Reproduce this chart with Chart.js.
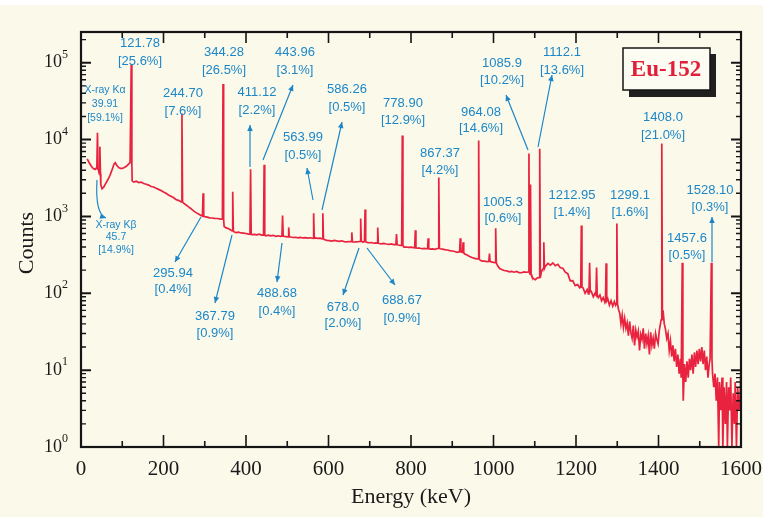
<!DOCTYPE html>
<html>
<head>
<meta charset="utf-8">
<script src="https://cdn.jsdelivr.net/npm/chart.js@4"></script>
<style>
  html, body { margin: 0; background: #fbf9ea; }
  canvas { display: block; }
</style>
</head>
<body>
<canvas id="spectrum" width="763" height="517"></canvas>
<script>
// Continuum of the Eu-152 spectrum (keV, counts)
const contE = [15, 20, 25, 30, 34, 37, 42.5, 48, 51, 55, 60, 65, 70, 75, 80, 83, 87, 92, 98, 104, 110, 115, 119,
  124, 128, 134, 140, 146, 152, 158, 164, 170, 176, 182, 188, 194, 200, 206, 212, 218, 224, 230, 236, 241,
  248, 254, 260, 266, 272, 278, 284, 290, 300, 306, 312, 318, 324, 330, 336, 341,
  347, 352, 358, 364, 371, 376, 382, 388, 394, 400, 406, 415, 420, 426, 432, 438,
  448, 454, 460, 466, 472, 478, 484, 493, 498, 508, 514, 520, 526, 532, 538, 544, 550, 556, 560,
  568, 574, 580, 590, 596, 602, 608, 614, 620, 626, 632, 638, 644, 650, 660, 666, 672, 683,
  693, 698, 704, 710, 715, 723, 728, 734, 740, 746, 752, 758, 769, 774,
  783, 788, 794, 800, 806, 815, 820, 826, 832, 837, 846, 852, 858, 863,
  871, 876, 882, 888, 894, 900, 906, 912, 916, 930, 936, 942, 948, 954, 960,
  968, 973, 978, 984, 995, 1000, 1010, 1015, 1020, 1026, 1032, 1038, 1044, 1050, 1056, 1062, 1068, 1074, 1080,
  1093, 1097, 1101, 1106, 1109, 1116, 1119, 1126, 1132, 1138, 1144, 1150, 1156, 1162, 1168, 1174, 1180, 1186, 1192, 1198, 1204, 1209,
  1217, 1222, 1227, 1230, 1237, 1242, 1246, 1254, 1258, 1262, 1266, 1270, 1277, 1281, 1285, 1289, 1293, 1296,
  1303, 1306, 1309, 1312, 1315, 1318, 1321, 1324, 1327, 1330, 1333, 1336, 1339, 1342, 1345, 1348, 1351, 1354, 1357,
  1360, 1363, 1366, 1369, 1372, 1375, 1378, 1381, 1384, 1387, 1390, 1393, 1396, 1399, 1402, 1405,
  1411, 1414, 1417, 1420, 1423, 1426, 1429, 1432, 1435, 1438, 1441, 1444, 1447, 1450, 1453, 1455,
  1460, 1463, 1466, 1469, 1472, 1475, 1478, 1481, 1484, 1487, 1490, 1493, 1496, 1499, 1502, 1505, 1508, 1511, 1514, 1517, 1520, 1523, 1525,
  1531, 1534, 1537, 1540, 1543, 1546, 1548, 1551, 1554, 1556, 1559, 1562, 1565, 1567, 1570, 1573, 1575, 1578, 1581, 1584, 1586, 1589, 1592, 1595, 1598, 1600];
const contC = [5600, 5000, 4500, 4200, 4100, 4250, 4000, 2600, 2300, 2400, 2700, 3000, 3400, 4000, 4800, 5000, 4600, 4300, 4200, 4300, 4500, 4800, 5000,
  2900, 2800, 2880, 2760, 2800, 2680, 2620, 2560, 2450, 2420, 2330, 2250, 2180, 2080, 2000, 1900, 1830, 1760, 1660, 1620, 1570,
  1500, 1420, 1340, 1270, 1190, 1130, 1080, 1040, 995, 980, 960, 955, 945, 940, 930, 920,
  740, 710, 690, 660, 630, 615, 625, 610, 605, 600, 590, 580, 585, 575, 588, 572,
  560, 572, 560, 568, 552, 560, 550, 548, 545, 540, 532, 536, 528, 535, 525, 530, 522, 528, 520,
  525, 518, 522, 500, 488, 485, 478, 488, 480, 475, 482, 470, 468, 472, 462, 468, 470, 465,
  460, 455, 458, 448, 452, 445, 440, 446, 438, 432, 440, 430, 425, 420,
  398, 400, 395, 398, 392, 386, 388, 380, 384, 380, 376, 378, 374, 382,
  380, 376, 370, 366, 360, 355, 350, 342, 345, 325, 315, 302, 292, 285, 280,
  268, 262, 262, 258, 256, 252, 228, 210, 204, 198, 196, 190, 193, 188, 192, 186, 185, 190, 188,
  165, 155, 150, 158, 160, 190, 205, 225, 245, 232, 248, 228, 238, 215, 212, 188, 180, 145, 146, 126, 130, 118,
  118, 100, 112, 98, 106, 90, 100, 88, 95, 80, 88, 76, 85, 70, 80, 68, 78, 70,
  62, 55, 40, 52, 36, 47, 35, 41, 28, 43, 31, 26, 38, 21, 33, 27, 32, 18, 29,
  25, 35, 19, 30, 22, 28, 16, 31, 21, 26, 19, 30, 25, 22, 33, 41,
  60, 40, 34, 26, 30, 18, 24, 15, 21, 13, 19, 11, 16, 9, 14, 8,
  4, 12, 7, 13, 8, 14, 10, 16, 9, 17, 11, 18, 12, 19, 13, 20, 12, 18, 10, 15, 8, 12, 14,
  9, 6, 9, 4, 8, 1, 7, 3, 8, 1, 6, 2, 7, 1, 6, 3, 8, 1, 5, 2, 7, 1, 6, 3, 5, 11];

// Photo-peaks: energy (keV), continuum under the peak, peak height (counts)
const peakE = [39.91, 45.7, 121.78, 244.70, 295.94, 344.28, 367.79, 411.12, 443.96, 488.68, 503.5, 563.99, 586.26,
  656.5, 678.0, 688.67, 719.3, 764.9, 778.90, 810.45, 841.6, 867.37, 919.3, 926.3, 964.08, 990.2, 1005.3,
  1085.9, 1089.7, 1112.1, 1122, 1212.95, 1233, 1249.9, 1273, 1299.1, 1408.0, 1457.6, 1528.10];
const peakBase = [4200, 3600, 5000, 1550, 1010, 920, 650, 585, 570, 555, 540, 520, 510,
  470, 475, 470, 450, 430, 420, 390, 380, 385, 345, 340, 280, 260, 250,
  190, 175, 160, 210, 120, 105, 95, 80, 73, 45, 8, 14];
const peakTop = [12300, 8100, 95000, 21800, 2000, 53000, 2100, 4100, 4700, 1030, 720, 1100, 1100,
  620, 940, 1230, 720, 590, 11300, 660, 520, 3200, 520, 460, 9700, 330, 700,
  6600, 2600, 7600, 460, 760, 250, 217, 245, 810, 8900, 250, 250];

const xTicks = [0, 200, 400, 600, 800, 1000, 1200, 1400, 1600];
const yExponents = [0, 1, 2, 3, 4, 5];

const RED = '#e8223f';
const BLUE = '#1b87c9';
const PEAK_HALF_WIDTH = 1.5;

// Annotation texts (pixel layout)
const notes = [
  { lines: ['X-ray K\u03b1', '39.91', '[59.1%]'], x: 105, y: 90, lh: 14, size: 10.5 },
  { lines: ['121.78', '[25.6%]'], x: 140, y: 43, lh: 18 },
  { lines: ['244.70', '[7.6%]'], x: 183, y: 93, lh: 18 },
  { lines: ['344.28', '[26.5%]'], x: 224, y: 52, lh: 18 },
  { lines: ['411.12', '[2.2%]'], x: 257, y: 92, lh: 18 },
  { lines: ['443.96', '[3.1%]'], x: 295, y: 52, lh: 18 },
  { lines: ['586.26', '[0.5%]'], x: 347, y: 89, lh: 18 },
  { lines: ['563.99', '[0.5%]'], x: 303, y: 137, lh: 18 },
  { lines: ['778.90', '[12.9%]'], x: 403, y: 103, lh: 17 },
  { lines: ['867.37', '[4.2%]'], x: 440, y: 153, lh: 17 },
  { lines: ['964.08', '[14.6%]'], x: 481, y: 112, lh: 16 },
  { lines: ['1085.9', '[10.2%]'], x: 502, y: 63, lh: 17 },
  { lines: ['1112.1', '[13.6%]'], x: 562, y: 52, lh: 18 },
  { lines: ['1408.0', '[21.0%]'], x: 663, y: 117, lh: 18 },
  { lines: ['1005.3', '[0.6%]'], x: 503, y: 202, lh: 16 },
  { lines: ['1212.95', '[1.4%]'], x: 572, y: 195, lh: 17 },
  { lines: ['1299.1', '[1.6%]'], x: 630, y: 195, lh: 17 },
  { lines: ['1528.10', '[0.3%]'], x: 710, y: 190, lh: 17 },
  { lines: ['1457.6', '[0.5%]'], x: 687, y: 238, lh: 17 },
  { lines: ['X-ray K\u03b2', '45.7', '[14.9%]'], x: 116, y: 225, lh: 12.5, size: 10.5 },
  { lines: ['295.94', '[0.4%]'], x: 173, y: 273, lh: 16 },
  { lines: ['367.79', '[0.9%]'], x: 215, y: 316, lh: 17 },
  { lines: ['488.68', '[0.4%]'], x: 277, y: 293, lh: 18 },
  { lines: ['678.0', '[2.0%]'], x: 343, y: 307, lh: 16 },
  { lines: ['688.67', '[0.9%]'], x: 402, y: 300, lh: 18 }
];
// arrows: tail x,y -> head x,y
const arrows = [
  [250, 167, 250, 125], [263, 160, 293, 85], [322, 210, 342, 122], [313, 200, 307, 168],
  [528, 150, 506, 95], [538, 147, 552, 75], [712, 262, 712, 217],
  [201, 217, 175, 262], [232, 235, 215, 303], [282, 243, 277, 282],
  [359, 248, 343, 295], [367, 248, 395, 285]
];

const points = contE.map((e, i) => ({ x: e, y: contC[i] }));
peakE.forEach((e, i) => {
  points.push({ x: e - PEAK_HALF_WIDTH, y: peakBase[i] });
  points.push({ x: e, y: peakTop[i] });
  points.push({ x: e + PEAK_HALF_WIDTH, y: peakBase[i] });
});
points.sort((a, b) => a.x - b.x);

function arrowHead(ctx, x1, y1, x2, y2) {
  const a = Math.atan2(y2 - y1, x2 - x1);
  const len = 6, wid = 2.8;
  ctx.beginPath();
  ctx.moveTo(x2, y2);
  ctx.lineTo(x2 - len * Math.cos(a) + wid * Math.sin(a), y2 - len * Math.sin(a) - wid * Math.cos(a));
  ctx.lineTo(x2 - len * Math.cos(a) - wid * Math.sin(a), y2 - len * Math.sin(a) + wid * Math.cos(a));
  ctx.closePath();
  ctx.fill();
}

const backgroundPlugin = {
  id: 'paper',
  beforeDraw(chart) {
    const ctx = chart.ctx;
    ctx.save();
    ctx.fillStyle = '#fbf9ea';
    ctx.fillRect(0, 0, chart.width, chart.height);
    ctx.fillStyle = '#ffffff';
    ctx.fillRect(0, 0, chart.width, 5);
    ctx.restore();
  }
};

const framePlugin = {
  id: 'frame',
  afterDraw(chart) {
    const ctx = chart.ctx;
    const { left, right, top, bottom } = chart.chartArea;
    const xs = chart.scales.x, ys = chart.scales.y;
    ctx.save();
    ctx.strokeStyle = '#151515';
    ctx.fillStyle = '#151515';
    ctx.lineWidth = 2.2;
    ctx.strokeRect(left, top, right - left, bottom - top);

    // x ticks, inward, bottom and top
    ctx.lineWidth = 1.6;
    for (let v = 0; v <= 1600; v += 100) {
      const px = xs.getPixelForValue(v);
      const major = v % 200 === 0;
      ctx.beginPath();
      ctx.moveTo(px, bottom); ctx.lineTo(px, bottom - (major ? 12 : 6));
      ctx.moveTo(px, top); ctx.lineTo(px, top + (major ? 11 : 6));
      ctx.stroke();
    }
    // y ticks, decades and minors, both sides
    for (const d of yExponents) {
      for (let k = 1; k <= 9; k++) {
        const val = k * Math.pow(10, d);
        if (val > ys.max) break;
        const py = ys.getPixelForValue(val);
        const len = k === 1 ? 10 : 5;
        ctx.lineWidth = k === 1 ? 2 : 1.4;
        ctx.beginPath();
        ctx.moveTo(left, py); ctx.lineTo(left + len, py);
        ctx.moveTo(right, py); ctx.lineTo(right - len, py);
        ctx.stroke();
      }
    }

    // tick labels
    ctx.fillStyle = '#1a1a1a';
    ctx.font = '21px "Liberation Serif", "Times New Roman", serif';
    ctx.textAlign = 'center';
    ctx.textBaseline = 'middle';
    xTicks.forEach(v => ctx.fillText(String(v), xs.getPixelForValue(v), 469));
    yExponents.forEach(d => {
      const py = ys.getPixelForValue(Math.pow(10, d));
      ctx.font = '18px "Liberation Serif", "Times New Roman", serif';
      ctx.textAlign = 'right';
      ctx.fillText('10', 62, py);
      ctx.font = '12px "Liberation Serif", "Times New Roman", serif';
      ctx.textAlign = 'left';
      ctx.fillText(String(d), 62, py - 8);
    });

    // axis titles
    ctx.font = '22px "Liberation Serif", "Times New Roman", serif';
    ctx.textAlign = 'center';
    ctx.fillText('Energy (keV)', 411, 497);
    ctx.save();
    ctx.translate(27, 243);
    ctx.rotate(-Math.PI / 2);
    ctx.fillText('Counts', 0, 0);
    ctx.restore();

    // peak annotations
    ctx.fillStyle = BLUE;
    ctx.strokeStyle = BLUE;
    notes.forEach(n => {
      ctx.font = (n.size || 13) + 'px "Liberation Sans", Arial, sans-serif';
      n.lines.forEach((t, i) => ctx.fillText(t, n.x, n.y + i * n.lh));
    });
    ctx.lineWidth = 1.2;
    arrows.forEach(([x1, y1, x2, y2]) => {
      ctx.beginPath();
      ctx.moveTo(x1, y1); ctx.lineTo(x2, y2);
      ctx.stroke();
      arrowHead(ctx, x1, y1, x2, y2);
    });
    // curved arrow to X-ray K-beta label
    ctx.beginPath();
    ctx.moveTo(97, 180);
    ctx.quadraticCurveTo(95, 214, 106, 218);
    ctx.stroke();
    arrowHead(ctx, 100, 216, 106, 218);

    // source box
    ctx.fillStyle = '#202020';
    ctx.fillRect(629, 54, 87, 43);
    ctx.fillStyle = '#fdfcf2';
    ctx.fillRect(623, 48, 87, 42);
    ctx.strokeStyle = '#151515';
    ctx.lineWidth = 1.5;
    ctx.strokeRect(623, 48, 87, 42);
    ctx.fillStyle = '#e0203a';
    ctx.font = 'bold 23px "Liberation Serif", "Times New Roman", serif';
    ctx.fillText('Eu-152', 666, 70);
    ctx.restore();
  }
};

new Chart(document.getElementById('spectrum'), {
  type: 'line',
  data: {
    datasets: [{
      label: 'Eu-152',
      data: points,
      borderColor: RED,
      borderWidth: 1.7,
      pointRadius: 0,
      tension: 0,
      fill: false
    }]
  },
  options: {
    responsive: false,
    animation: false,
    events: [],
    layout: { padding: { left: 81, right: 22, top: 32, bottom: 70 } },
    plugins: { legend: { display: false }, tooltip: { enabled: false } },
    scales: {
      x: { type: 'linear', min: 0, max: 1600, display: false },
      y: { type: 'logarithmic', min: 1, max: Math.pow(10, 5.4), display: false }
    }
  },
  plugins: [backgroundPlugin, framePlugin]
});
</script>
</body>
</html>
